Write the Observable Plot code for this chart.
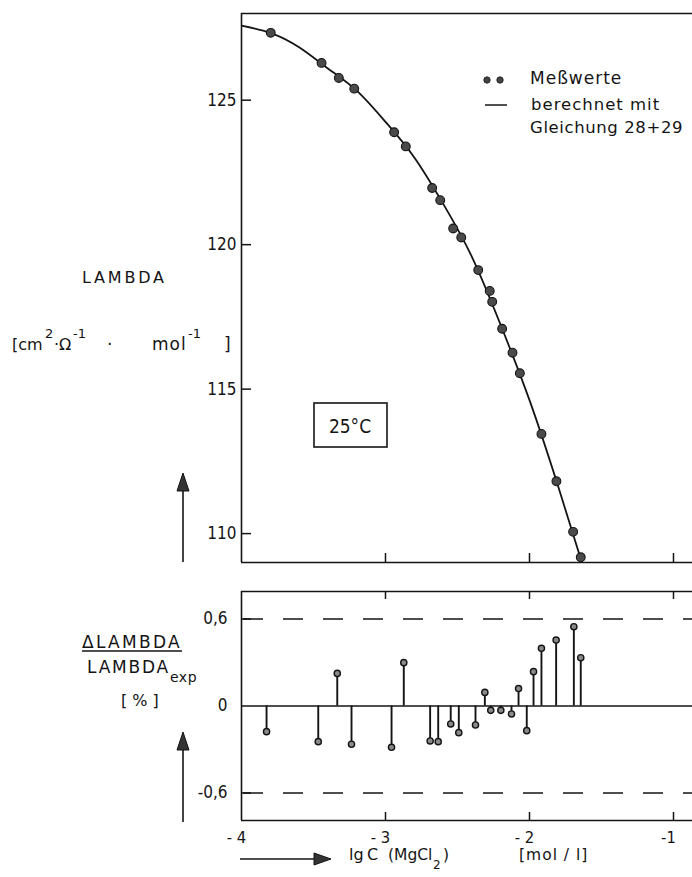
<!DOCTYPE html>
<html><head><meta charset="utf-8">
<script src="https://cdn.jsdelivr.net/npm/d3@7"></script>
<script src="https://cdn.jsdelivr.net/npm/@observablehq/plot@0.6"></script>
<style>
body{margin:0;background:#fff}
#wrap{position:relative;width:692px;height:877px;overflow:hidden;background:#fff}
#wrap > svg{position:absolute;left:0}
</style></head><body><div id="wrap"></div>
<script>
// Measured points (top panel)
const lgC    = [-3.797,-3.444,-3.324,-3.217,-2.940,-2.859,-2.676,-2.620,-2.530,-2.474,-2.356,-2.276,-2.259,-2.190,-2.118,-2.067,-1.917,-1.813,-1.697,-1.644];
const lambda = [127.33,126.29,125.77,125.40,123.89,123.40,121.96,121.54,120.56,120.25,119.12,118.40,118.02,117.09,116.26,115.55,113.45,111.81,110.06,109.18];
// Calculated curve
const curveLgC    = [-4.0,-3.8,-3.6,-3.4,-3.2,-3.0,-2.8,-2.6,-2.4,-2.2,-2.0,-1.8,-1.6];
const curveLambda = [127.58,127.33,126.83,126.10,125.33,124.25,123.02,121.42,119.58,117.22,114.62,111.62,108.42];
// Residuals (bottom panel)
const resLgC = [-3.826,-3.467,-3.335,-3.236,-2.958,-2.873,-2.690,-2.634,-2.547,-2.491,-2.375,-2.310,-2.269,-2.199,-2.125,-2.076,-2.019,-1.972,-1.917,-1.815,-1.692,-1.644];
const resPct = [-0.177,-0.246,0.225,-0.264,-0.285,0.299,-0.241,-0.246,-0.124,-0.184,-0.131,0.094,-0.03,-0.03,-0.055,0.12,-0.17,0.237,0.398,0.455,0.547,0.333];
// Ticks
const xTicks = [-4,-3,-2,-1];
const xTickLabels = ["- 4","- 3","- 2","-1"];
const xInnerTicks = [-3,-2,-1];
const yTicksTop = [110,115,120,125];
const yTicksBottom = [-0.6,0,0.6];
const yTickLabelsBottom = ["-0,6","0","0,6"];
const limits = [-0.6, 0.6];

const tickFont = "'DejaVu Sans Condensed','Liberation Sans Narrow','DejaVu Sans',sans-serif";
const labelFont = "'DejaVu Sans','Liberation Sans',sans-serif";
const ink = "#141414";
const xDomain = [-4, -0.868];
const yTopDomain = [109, 128];
const yBotDomain = [-0.79, 0.79];

const points = lgC.map((x,i)=>({x, y: lambda[i]}));
const curvePts = curveLgC.map((x,i)=>({x, y: curveLambda[i]}));
const resid = resLgC.map((x,i)=>({x, v: resPct[i]}));

const wrap = document.getElementById("wrap");

// inward ticks helpers (pixel lengths via insets)
const leftTicks = (ticks, len) => Plot.ruleY(ticks, {y: d => d, x1: xDomain[0], x2: xDomain[0], insetRight: -len, stroke: ink, strokeWidth: 1.5});
const bottomTicks = (ticks, yv, len) => Plot.ruleX(ticks, {x: d => d, y1: yv, y2: yv, insetBottom: len, stroke: ink, strokeWidth: 1.5});
const topTicks = (ticks, yv, len) => Plot.ruleX(ticks, {x: d => d, y1: yv, y2: yv, insetTop: len, stroke: ink, strokeWidth: 1.5});

const topPlot = Plot.plot({
  width: 692, height: 570,
  marginLeft: 241, marginRight: 0, marginTop: 13, marginBottom: 8,
  style: {fontFamily: tickFont, fontSize: "17px", color: ink, background: "transparent"},
  x: {domain: xDomain, axis: null},
  y: {domain: yTopDomain, axis: null},
  marks: [
    Plot.line(curvePts, {x: "x", y: "y", curve: "natural", stroke: ink, strokeWidth: 1.8, clip: true}),
    Plot.dot(points, {x: "x", y: "y", r: 4.4, fill: "#4a4a4a", stroke: ink, strokeWidth: 1.1}),
    Plot.ruleY(yTopDomain, {stroke: ink, strokeWidth: 1.6}),
    Plot.ruleX([xDomain[0]], {stroke: ink, strokeWidth: 1.6}),
    Plot.axisY({ticks: yTicksTop, anchor: "left", tickSize: 0, tickPadding: 5, fontSize: 17, fill: ink, label: null}),
    leftTicks(yTicksTop, 10),
    bottomTicks(xInnerTicks, yTopDomain[0], 9)
  ]
});
topPlot.style.top = "0px";
wrap.appendChild(topPlot);

const bottomPlot = Plot.plot({
  width: 692, height: 299,
  marginLeft: 241, marginRight: 0, marginTop: 13, marginBottom: 57,
  style: {fontFamily: tickFont, fontSize: "17px", color: ink, background: "transparent"},
  x: {domain: xDomain, axis: null},
  y: {domain: yBotDomain, axis: null},
  marks: [
    Plot.ruleY(limits, {stroke: ink, strokeWidth: 1.5, strokeDasharray: "20,20", strokeDashoffset: -2}),
    Plot.ruleY([0], {stroke: ink, strokeWidth: 1.7}),
    Plot.ruleX(resid, {x: "x", y1: 0, y2: "v", stroke: ink, strokeWidth: 1.9}),
    Plot.dot(resid, {x: "x", y: "v", r: 3.1, fill: "#8a8a8a", stroke: ink, strokeWidth: 1.4}),
    Plot.ruleY(yBotDomain, {stroke: ink, strokeWidth: 1.6}),
    Plot.ruleX([xDomain[0]], {stroke: ink, strokeWidth: 1.6}),
    Plot.axisY({ticks: yTicksBottom, anchor: "left", tickSize: 0, tickPadding: 14, fontSize: 17, fill: ink, label: null,
      tickFormat: d => yTickLabelsBottom[yTicksBottom.indexOf(d)]}),
    Plot.axisX({ticks: xTicks, anchor: "bottom", tickSize: 0, tickPadding: 11, fontSize: 16.5, fill: ink, dx: -5, label: null,
      tickFormat: d => xTickLabels[xTicks.indexOf(d)]}),
    leftTicks(limits, 10),
    bottomTicks(xInnerTicks, yBotDomain[0], 8),
    topTicks(xInnerTicks, yBotDomain[1], 8)
  ]
});
bottomPlot.style.top = "578px";
wrap.appendChild(bottomPlot);

// Overlay: labels, legend, annotation, arrows
const ov = d3.create("svg").attr("width", 692).attr("height", 877)
  .attr("viewBox", "0 0 692 877").style("top", "0px").style("pointer-events", "none")
  .attr("font-family", labelFont).attr("fill", ink);

function txt(x, y, s, o = {}) {
  const t = ov.append("text").attr("x", x).attr("y", y).text(s)
    .attr("font-size", o.size || 16).style("white-space", "pre");
  if (o.ls != null) t.attr("letter-spacing", o.ls);
  if (o.anchor) t.attr("text-anchor", o.anchor);
  if (o.font) t.attr("font-family", o.font);
  return t;
}

// top y label
txt(82, 283, "LAMBDA", {size: 16, ls: 2.8});
txt(12, 350, "[cm", {size: 16});
txt(45, 338, "2", {size: 13});
txt(54, 350, "·Ω", {size: 16});
txt(73, 338, "-1", {size: 13});
txt(107, 350, "·", {size: 17});
txt(152, 350, "mol", {size: 17, ls: 1});
txt(188, 338, "-1", {size: 13});
txt(224, 350, "]", {size: 17});

// bottom y label
txt(82, 648, "ΔLAMBDA", {size: 17, ls: 2.3});
ov.append("line").attr("x1", 82).attr("x2", 182).attr("y1", 651).attr("y2", 651).attr("stroke", ink).attr("stroke-width", 1.4);
txt(87, 673, "LAMBDA", {size: 17, ls: 1.8});
txt(170, 682, "exp", {size: 14, ls: 0.5});
txt(121, 706, "[ % ]", {size: 16});

// x label
txt(349, 860, "lg", {size: 16});
txt(367, 860, "C", {size: 16});
txt(388, 860, "(MgCl", {size: 15.5});
txt(433, 869, "2", {size: 12});
txt(443, 860, ")", {size: 15.5});
txt(519, 860, "[mol / l]", {size: 15.5, ls: 1});

// legend
[487, 500].forEach(cx => ov.append("circle").attr("cx", cx).attr("cy", 80).attr("r", 3.2).attr("fill", "#444").attr("stroke", ink).attr("stroke-width", 0.8));
ov.append("line").attr("x1", 485).attr("x2", 507).attr("y1", 105).attr("y2", 105).attr("stroke", ink).attr("stroke-width", 1.5);
txt(530, 84, "Meßwerte", {size: 17, ls: 1});
txt(531, 110, "berechnet mit", {size: 16.5, ls: 1});
txt(530, 133, "Gleichung 28+29", {size: 16.5, ls: 0.6});

// 25°C box
ov.append("rect").attr("x", 314).attr("y", 403).attr("width", 73).attr("height", 44)
  .attr("fill", "none").attr("stroke", ink).attr("stroke-width", 1.6);
txt(350, 433, "25°C", {size: 19, anchor: "middle", font: tickFont});

// arrows
function arrowUp(x, yTip, yEnd) {
  ov.append("line").attr("x1", x).attr("x2", x).attr("y1", yTip + 14).attr("y2", yEnd).attr("stroke", ink).attr("stroke-width", 1.6);
  ov.append("path").attr("d", `M${x},${yTip} L${x-6},${yTip+18} L${x+6},${yTip+18} Z`).attr("fill", "#333").attr("stroke", ink).attr("stroke-width", 1);
}
arrowUp(183, 473, 562);
arrowUp(183, 732, 822);
ov.append("line").attr("x1", 240).attr("x2", 318).attr("y1", 859).attr("y2", 859).attr("stroke", ink).attr("stroke-width", 1.6);
ov.append("path").attr("d", "M331,859 L314,853 L314,865 Z").attr("fill", "#333").attr("stroke", ink).attr("stroke-width", 1);

wrap.appendChild(ov.node());
</script></body></html>
